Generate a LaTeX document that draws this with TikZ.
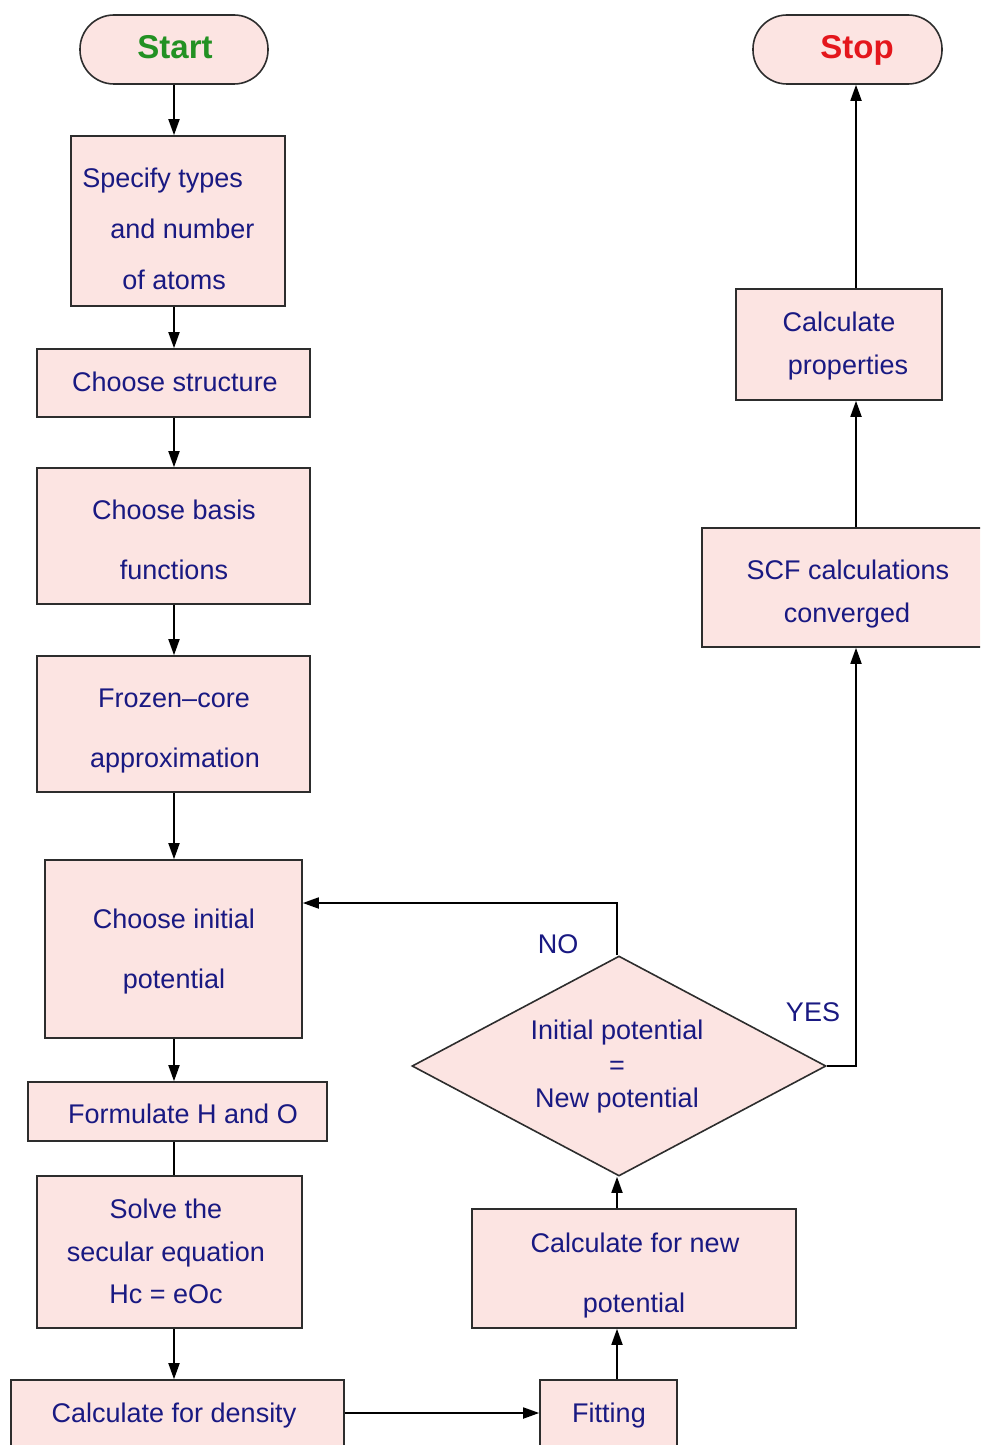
\documentclass[tikz,border=0pt]{standalone}
\usepackage{fontspec}
\setmainfont{Liberation Sans}
\usetikzlibrary{arrows.meta,shapes.geometric}
\definecolor{boxfill}{RGB}{252,228,226}
\definecolor{boxline}{RGB}{45,45,45}
\definecolor{txtblue}{RGB}{25,25,130}
\definecolor{startgreen}{RGB}{35,145,35}
\definecolor{stopred}{RGB}{228,22,28}

\begin{document}
\begin{tikzpicture}[x=0.5pt,y=-0.5pt,
  box/.style={draw=boxline, fill=boxfill, line width=0.8pt, inner sep=0pt, rectangle},
  term/.style={box, rounded corners=17pt},
  decision/.style={box, shape=diamond},
  txt/.style={anchor=base, text=txtblue, inner sep=0pt,
              font=\fontsize{13.5}{16}\selectfont},
  termtxt/.style={anchor=base, inner sep=0pt, font=\fontsize{16.5}{20}\selectfont\bfseries},
  flow/.style={draw=black, line width=0.9pt, -{Triangle[length=8pt,width=5.5pt]}},
  link/.style={draw=black, line width=0.9pt}]

\useasboundingbox (0,0) rectangle (980,1445);
\clip (0,0) rectangle (980,1445);

% ---------- boxes ----------
\node[term, minimum width=94pt,  minimum height=34.5pt] (start)   at (174,49.5)   {};
\node[term, minimum width=94.5pt,minimum height=34.5pt] (stop)    at (847.5,49.5) {};
\node[box,  minimum width=107pt, minimum height=85pt]   (spec)    at (178,221)    {};
\node[box,  minimum width=136.5pt,minimum height=34pt]  (struct)  at (173.5,383)  {};
\node[box,  minimum width=136.5pt,minimum height=68pt]  (basis)   at (173.5,536)  {};
\node[box,  minimum width=136.5pt,minimum height=68pt]  (frozen)  at (173.5,724)  {};
\node[box,  minimum width=128.5pt,minimum height=89pt]  (init)    at (173.5,949)  {};
\node[box,  minimum width=149.5pt,minimum height=29.5pt](form)    at (177.5,1111.5) {};
\node[box,  minimum width=132.5pt,minimum height=76pt]  (solve)   at (169.5,1252) {};
\node[box,  minimum width=166.5pt,minimum height=50pt]  (density) at (177.5,1430) {};
\node[box,  minimum width=68.5pt, minimum height=50pt]  (fitting) at (608.5,1430) {};
\node[box,  minimum width=162pt,  minimum height=59.5pt](calcnew) at (634,1268.5) {};
\node[decision, minimum width=207pt, minimum height=110pt] (decide) at (619,1066) {};
\node[box,  minimum width=149pt,  minimum height=59.5pt](scf)     at (851,587.5)  {};
\node[box,  minimum width=103pt,  minimum height=55.5pt](props)   at (839,344.5)  {};

% ---------- texts ----------
\node[termtxt, text=startgreen] (start-t) at (175,59) {Start};
\node[termtxt, text=stopred]    (stop-t)  at (857,59) {Stop};

\node[txt, anchor=base west] (spec-t1) at (82,187)  {Specify types};
\node[txt, anchor=base west] (spec-t2) at (110,238) {and number};
\node[txt, anchor=base west] (spec-t3) at (122,289) {of atoms};

\node[txt] (struct-t) at (175,391) {Choose structure};

\node[txt] (basis-t1) at (174,519) {Choose basis};
\node[txt] (basis-t2) at (174,579) {functions};

\node[txt] (frozen-t1) at (174,707) {Frozen--core};
\node[txt] (frozen-t2) at (175,767) {approximation};

\node[txt] (init-t1) at (174,928) {Choose initial};
\node[txt] (init-t2) at (174,988) {potential};

\node[txt] (form-t) at (183,1123) {Formulate H and O};

\node[txt] (solve-t1) at (166,1218) {Solve the};
\node[txt] (solve-t2) at (166,1261) {secular equation};
\node[txt] (solve-t3) at (166,1303) {Hc = eOc};

\node[txt] (density-t) at (174,1422) {Calculate for density};
\node[txt] (fitting-t) at (609,1422) {Fitting};

\node[txt] (calcnew-t1) at (635,1252) {Calculate for new};
\node[txt] (calcnew-t2) at (634,1312) {potential};

\node[txt] (decide-t1) at (617,1039) {Initial potential};
\node[txt] (decide-t2) at (617,1074) {=};
\node[txt] (decide-t3) at (617,1107) {New potential};

\node[txt] (scf-t1) at (848,579) {SCF calculations};
\node[txt] (scf-t2) at (847,622) {converged};

\node[txt] (props-t1) at (839,331) {Calculate};
\node[txt] (props-t2) at (848,374) {properties};

\node[txt] (no-t)  at (558,953)  {NO};
\node[txt] (yes-t) at (813,1021) {YES};

% ---------- guide coordinates for straight runs ----------
\coordinate (lcol) at (174,0);
\coordinate (mcol) at (617,0);
\coordinate (rcol) at (856,0);
\coordinate (hrow) at (0,1413);
\coordinate (nrow) at (0,903);

% ---------- connectors ----------
\draw[flow] (lcol |- start.south)  -- (lcol |- spec.north);
\draw[flow] (lcol |- spec.south)   -- (lcol |- struct.north);
\draw[flow] (lcol |- struct.south) -- (lcol |- basis.north);
\draw[flow] (lcol |- basis.south)  -- (lcol |- frozen.north);
\draw[flow] (lcol |- frozen.south) -- (lcol |- init.north);
\draw[flow] (lcol |- init.south)   -- (lcol |- form.north);
\draw[link] (lcol |- form.south)   -- (lcol |- solve.north);
\draw[flow] (lcol |- solve.south)  -- (lcol |- density.north);
\draw[flow] (density.east |- hrow) -- (fitting.west |- hrow);
\draw[flow] (mcol |- fitting.north) -- (mcol |- calcnew.south);
\draw[flow] (mcol |- calcnew.north) -- (mcol |- decide.south);
\draw[flow] (mcol |- decide.north) |- (init.east |- nrow);
\draw[flow] (decide.east) -| (rcol |- scf.south);
\draw[flow] (rcol |- scf.north)   -- (rcol |- props.south);
\draw[flow] (rcol |- props.north) -- (rcol |- stop.south);
\end{tikzpicture}
\end{document}
